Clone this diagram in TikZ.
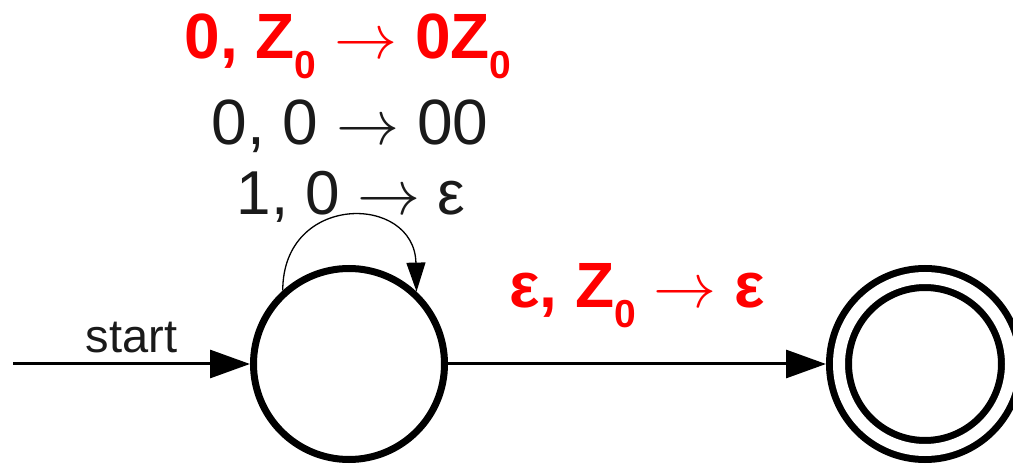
\documentclass[tikz,border=0pt]{standalone}
\usepackage{graphicx}
\usepackage{fontspec}
\setmainfont{Liberation Sans}
\usetikzlibrary{arrows.meta}
\definecolor{hot}{HTML}{FF0000}
\definecolor{ink}{HTML}{1A1A1A}
\newcommand{\lowsub}[1]{\raisebox{-20pt}{\fontsize{39}{39}\selectfont #1}}
\newcommand{\ruleto}{\scalebox{6.3}{\normalsize$\rightarrow$}}
\tikzset{
  pdastate/.style={draw=black, circle, line width=7pt, fill=white,
    minimum size=191pt, inner sep=0pt, outer sep=3.5pt},
  pdafinal/.style={draw=black, circle, line width=7pt, double=white, double distance=12pt,
    minimum size=172pt, inner sep=0pt, outer sep=13pt},
  trans/.style={draw=black, line width=3pt, -{Triangle[length=40pt,width=28pt]}},
  loopedge/.style={draw=black, line width=1.3pt, -{Triangle[length=29pt,width=19pt]}},
  pushrule/.style={font=\fontsize{64}{70}\selectfont, text=ink, inner sep=0pt, anchor=base},
  hotrule/.style={font=\fontsize{64}{70}\selectfont\bfseries, text=hot, inner sep=0pt, anchor=base},
}
\begin{document}
\begin{tikzpicture}[x=1pt,y=1pt]
\useasboundingbox (0,0) rectangle (1013,464);

% ----- states -----
\node[pdastate] (q0) at (349,100) {};
\node[pdafinal] (q1) at (925,100) {};
\coordinate (entry) at (13,100);

% ----- stack rules of the loop -----
\node[hotrule] (push0) at (348,405) {0, Z\lowsub{0} \ruleto{} 0Z\lowsub{0}};
\node[pushrule] (push1) at (350,319) {0, 0 \ruleto{} 00};
\node[pushrule, font=\fontsize{62}{70}\selectfont] (pop1) at (351,249) {1, 0 \ruleto{} ε};

% ----- transitions -----
\draw[trans] (entry) -- node[above, font=\fontsize{47}{50}\selectfont, text=ink, inner sep=10pt]{start} (q0.west);
\draw[loopedge] (q0.132) .. controls +(0,98) and +(-2,98) .. (q0.47);
\draw[trans] (q0.east) -- node[hotrule, yshift=56pt]{ε, Z\lowsub{0} \ruleto{} ε} (q1.west);

\end{tikzpicture}
\end{document}
